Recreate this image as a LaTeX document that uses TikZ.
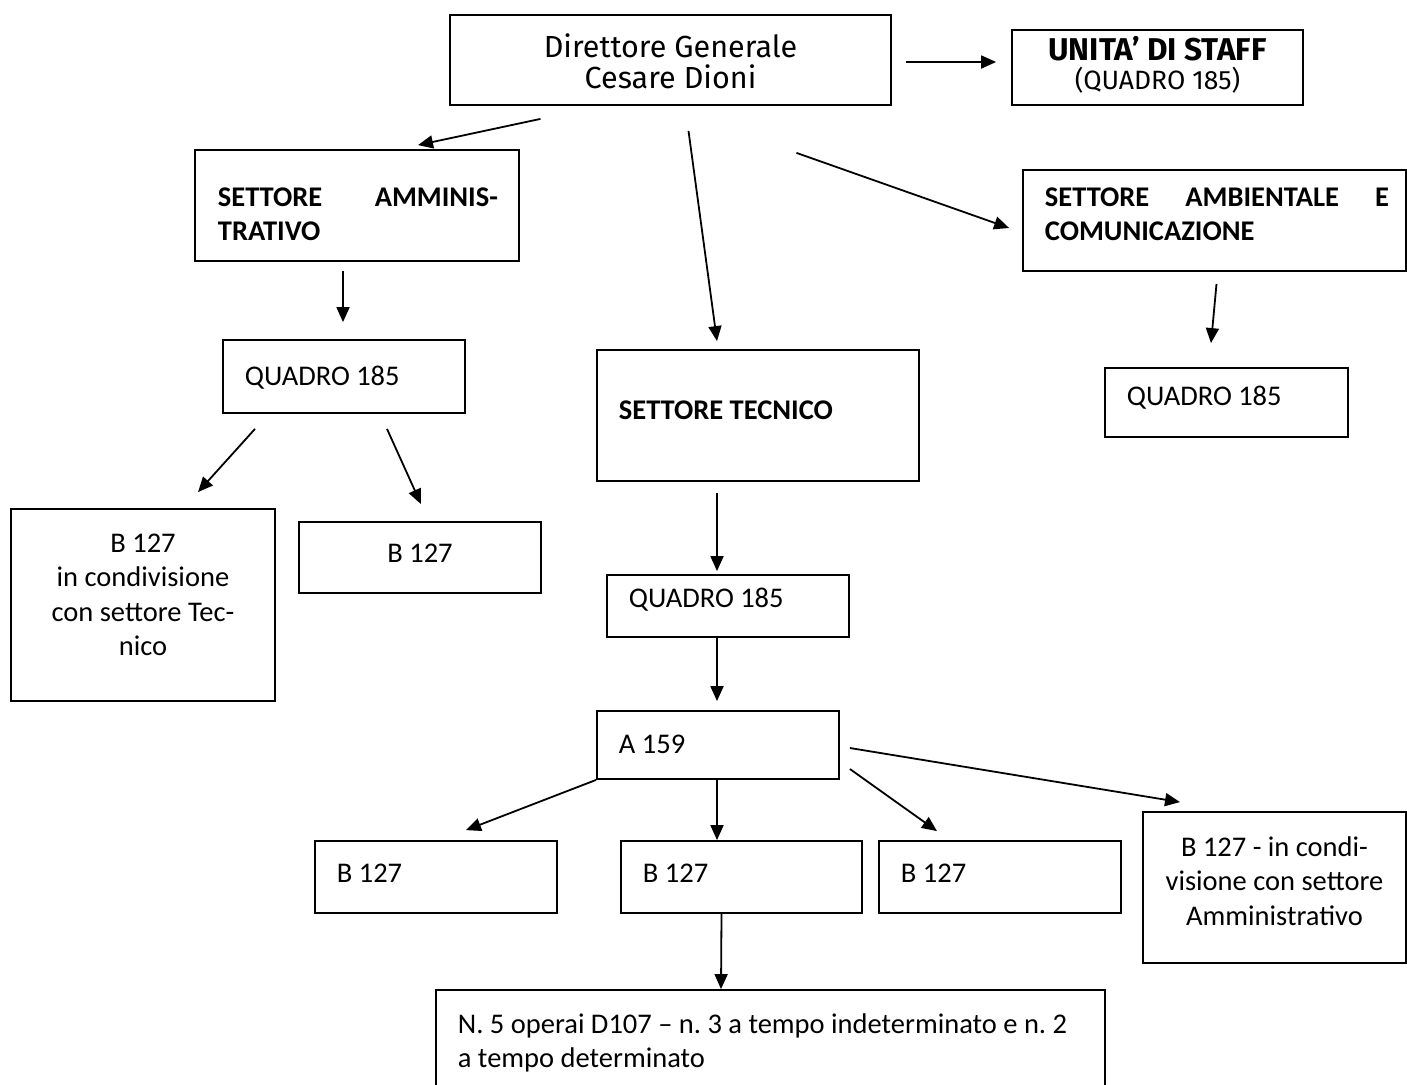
\documentclass[tikz,border=0pt]{standalone}
\usepackage{fontspec}
\setmainfont{Carlito}
\newfontfamily\trebfont{Fira Sans}
\usetikzlibrary{arrows.meta}
\frenchspacing

\begin{document}
\begin{tikzpicture}[x=1pt,y=-1pt,
    line width=1.8pt,
    >={Triangle[length=15pt,width=13pt]},
    box/.style = {
      draw,
      rectangle,
      inner sep = 0pt
    },
    txt/.style = {
      inner sep = 0pt,
      font = \fontsize{28.5}{34.5}\selectfont
    },
    head/.style = {
      txt,
      font = \fontsize{28.5}{34.5}\selectfont\bfseries
    }
  ]
  \useasboundingbox (0,0) rectangle (1407,1084);

  % boxes
  \node[box,minimum width=441,minimum height=90]  (dir)   at (670.5,60)   {};
  \node[box,minimum width=291,minimum height=75]  (staff) at (1157.5,67.5) {};
  \node[box,minimum width=324,minimum height=111] (amm)   at (357,205.5)  {};
  \node[box,minimum width=383,minimum height=101] (amb)   at (1214.5,220.5) {};
  \node[box,minimum width=242,minimum height=73]  (qamm)  at (344,376.5)  {};
  \node[box,minimum width=322,minimum height=131] (tec)   at (758,415.5)  {};
  \node[box,minimum width=243,minimum height=69]  (qamb)  at (1226.5,402.5) {};
  \node[box,minimum width=264,minimum height=192] (bamm)  at (143,605)    {};
  \node[box,minimum width=242,minimum height=71]  (bsub)  at (420,557.5)  {};
  \node[box,minimum width=242,minimum height=62]  (qtec)  at (728,606)    {};
  \node[box,minimum width=242,minimum height=68]  (a)     at (718,745)    {};
  \node[box,minimum width=242,minimum height=72]  (bone)  at (436,877)    {};
  \node[box,minimum width=241,minimum height=72]  (btwo)  at (741.5,877)  {};
  \node[box,minimum width=242,minimum height=72]  (bthr)  at (1000,877)   {};
  \node[box,minimum width=263,minimum height=151] (bcon)  at (1274.5,887.5) {};
  \node[box,minimum width=669,minimum height=120] (oper)  at (770.5,1050) {};

  % texts
  \node[txt,font=\trebfont\fontsize{30.5}{31}\selectfont,text width=441,align=flush center,anchor=base] (tdir) at (670.5,57)
    {Direttore Generale\\Cesare Dioni};
  \node[txt,font=\trebfont\fontsize{31.5}{30}\selectfont\bfseries,anchor=base] (tstaff) at (1157.5,60) {UNITA’ DI STAFF};
  \node[txt,font=\trebfont\fontsize{26.5}{25}\selectfont,anchor=base] (tstaffq) at (1157.5,89) {(QUADRO 185)};
  \node[head,text width=280,align=justify,anchor=base west] (tamm) at (217,206)
    {SETTORE AMMINIS-\linebreak TRATIVO};
  \node[head,text width=344,align=justify,anchor=base west] (tamb) at (1044,206)
    {SETTORE AMBIENTALE E\linebreak COMUNICAZIONE};
  \node[txt,anchor=base west]  (tqamm) at (244,385) {QUADRO 185};
  \node[head,anchor=base west] (ttec)  at (618,419) {SETTORE TECNICO};
  \node[txt,anchor=base west]  (tqamb) at (1126,405) {QUADRO 185};
  \node[txt,text width=264,align=flush center,anchor=base] (tbamm) at (143,552)
    {B 127\\ in condivisione\\con settore Tec-\\nico};
  \node[txt,anchor=base] (tbsub) at (420,562) {B 127};
  \node[txt,anchor=base west] (tqtec) at (628,607) {QUADRO 185};
  \node[txt,anchor=base west] (ta)    at (618,753) {A 159};
  \node[txt,anchor=base west] (tbone) at (336,882) {B 127};
  \node[txt,anchor=base west] (tbtwo) at (642,882) {B 127};
  \node[txt,anchor=base west] (tbthr) at (900,882) {B 127};
  \node[txt,text width=263,align=flush center,anchor=base] (tbcon) at (1274.5,856)
    {B 127 - in condi-\\visione con settore\\Amministrativo};
  \node[txt,text width=640,align=flush left,anchor=base west] (toper) at (457,1033)
    {N. 5 operai D107 – n. 3 a tempo indeterminato e n. 2\\a tempo determinato};

  % arrows
  \draw[->] ([xshift=14,yshift=-2]dir.east) -- ([xshift=-15,yshift=5.5]staff.west);
  \draw[->] ([xshift=-130,yshift=-13]dir.south) -- ([xshift=61,yshift=4]amm.north);
  \draw[->] ([xshift=18,yshift=-25]dir.south) -- ([xshift=-41,yshift=8]tec.north);
  \draw[->] ([xshift=126,yshift=-47]dir.south) -- ([xshift=-13,yshift=-7.5]amb.west);
  \draw[->] ([xshift=-14,yshift=-9]amm.south) -- ([xshift=-1,yshift=17]qamm.north);
  \draw[->] ([xshift=2,yshift=-12]amb.south) -- ([xshift=-15.5,yshift=24]qamb.north);
  \draw[->] ([xshift=-89,yshift=-15]qamm.south) -- ([xshift=55,yshift=16]bamm.north);
  \draw[->] ([xshift=43,yshift=-15]qamm.south) -- ([xshift=1,yshift=17]bsub.north);
  \draw[->] ([xshift=-41,yshift=-11]tec.south) -- ([xshift=-11,yshift=3]qtec.north);
  \draw[->] ([xshift=-11]qtec.south) -- ([xshift=-1,yshift=9]a.north);
  \draw[->] (a.south west) -- ([xshift=30,yshift=10]bone.north);
  \draw[->] ([xshift=-1]a.south) -- ([xshift=-24.5]btwo.north);
  \draw[->] ([xshift=10,yshift=-24]a.east) -- ([xshift=-63,yshift=9]bthr.north);
  \draw[->] ([xshift=10,yshift=-3]a.east) -- ([xshift=-94.5,yshift=9]bcon.north);
  \draw[->] ([xshift=-20]btwo.south) -- ([xshift=-49.5]oper.north);
\end{tikzpicture}
\end{document}
